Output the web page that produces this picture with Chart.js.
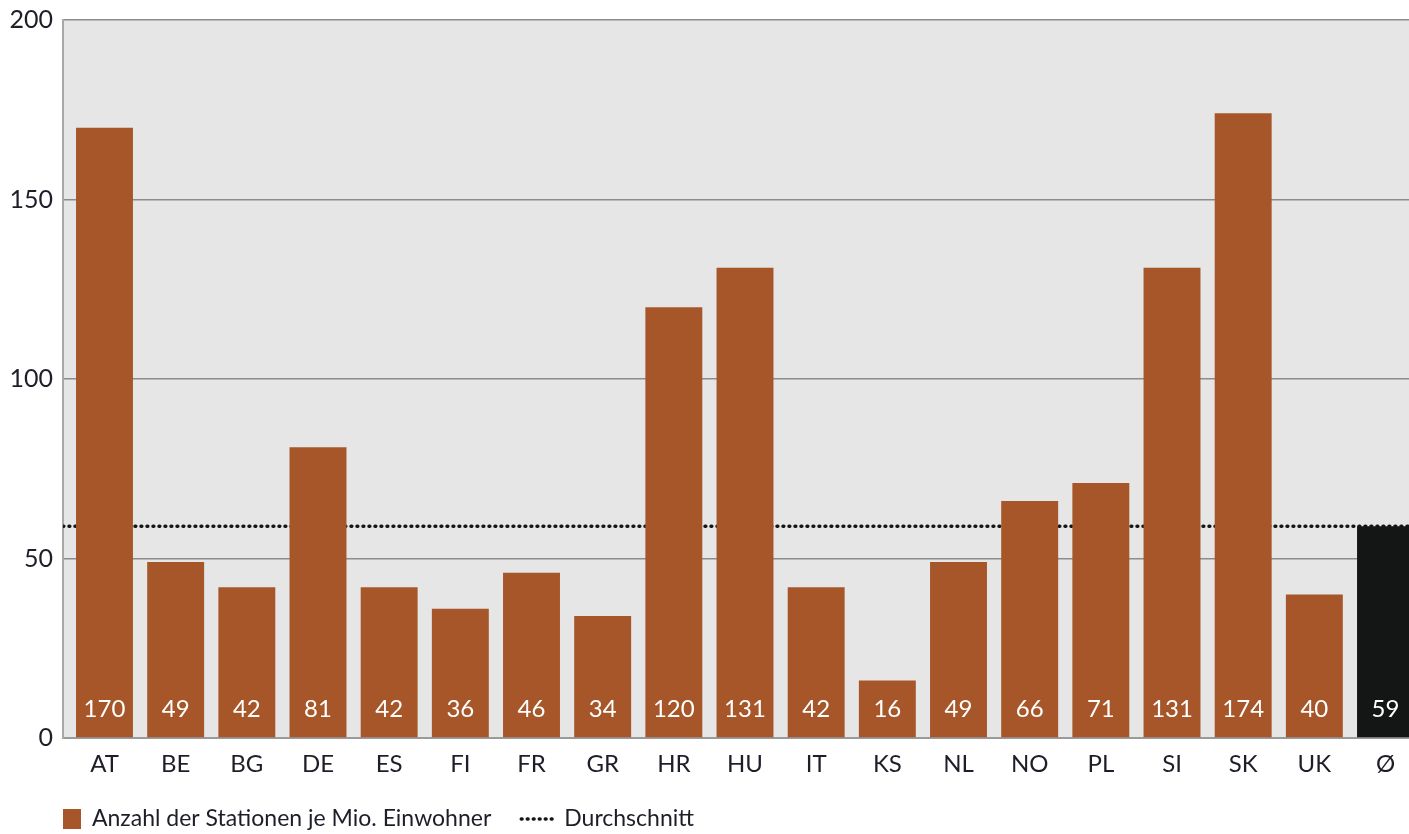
<!DOCTYPE html>
<html>
<head>
<meta charset="utf-8">
<script src="https://cdn.jsdelivr.net/npm/chart.js@4/dist/chart.umd.min.js"></script>
<style>
  html, body { margin: 0; padding: 0; background: #ffffff; overflow: hidden; }
  #wrap { width: 1409px; height: 834px; position: relative; }
</style>
</head>
<body>
<div id="wrap"><canvas id="c"></canvas></div>
<script>
// ---- data ----
const categories = ['AT','BE','BG','DE','ES','FI','FR','GR','HR','HU','IT','KS','NL','NO','PL','SI','SK','UK','Ø'];
const stationValues = [170,49,42,81,42,36,46,34,120,131,42,16,49,66,71,131,174,40,59];
const averageValue = 59;
const yTickValues = [0, 50, 100, 150, 200];
const seriesNames = ['Anzahl der Stationen je Mio. Einwohner', 'Durchschnitt'];

// ---- style ----
const FONT = "Lato, 'Open Sans', sans-serif";
const BROWN = '#a65628';
const BLACK = '#141616';
const TEXT = '#1e1e28';
const X_MIN = -0.583, X_MAX = 18.33;
const DOT_DASH = [0.8, 5.2];

const barColors = categories.map(c => c === 'Ø' ? BLACK : BROWN);

const plotBg = {
  id: 'plotBg',
  beforeDraw(chart) {
    const {ctx, chartArea: a} = chart;
    ctx.save();
    ctx.fillStyle = '#e6e6e6';
    ctx.fillRect(a.left, a.top, a.right - a.left, a.bottom - a.top);
    ctx.restore();
  }
};

const valueLabels = {
  id: 'valueLabels',
  afterDatasetsDraw(chart) {
    const {ctx} = chart;
    const meta = chart.getDatasetMeta(0);
    const y0 = chart.scales.y.getPixelForValue(0);
    ctx.save();
    ctx.font = '24px ' + FONT;
    ctx.fillStyle = '#ffffff';
    ctx.textAlign = 'center';
    ctx.textBaseline = 'middle';
    meta.data.forEach((el, i) => {
      ctx.fillText(String(stationValues[i]), el.x, y0 - 29);
    });
    ctx.restore();
  }
};

const customLegend = {
  id: 'customLegend',
  afterDraw(chart) {
    const {ctx, chartArea: a} = chart;
    const cy = chart.height - 15;
    ctx.save();
    ctx.font = '23px ' + FONT;
    ctx.textBaseline = 'middle';
    ctx.textAlign = 'left';
    let x = a.left;
    // bar item
    ctx.fillStyle = BROWN;
    ctx.fillRect(x, cy - 10, 18, 20);
    x += 29;
    ctx.fillStyle = TEXT;
    ctx.fillText(seriesNames[0], x, cy);
    x += ctx.measureText(seriesNames[0]).width + 29;
    // line item
    ctx.strokeStyle = BLACK;
    ctx.lineWidth = 3.5;
    ctx.lineCap = 'round';
    ctx.setLineDash(DOT_DASH);
    ctx.beginPath();
    ctx.moveTo(x + 1, cy);
    ctx.lineTo(x + 34, cy);
    ctx.stroke();
    ctx.setLineDash([]);
    x += 44;
    ctx.fillStyle = TEXT;
    ctx.fillText(seriesNames[1], x, cy);
    ctx.restore();
  }
};

new Chart(document.getElementById('c'), {
  type: 'bar',
  data: {
    datasets: [
      {
        type: 'bar',
        label: seriesNames[0],
        data: stationValues.map((v, i) => ({x: i, y: v})),
        backgroundColor: barColors,
        borderWidth: 0,
        categoryPercentage: 1,
        barPercentage: 0.8,
        order: 1
      },
      {
        type: 'line',
        label: seriesNames[1],
        data: [{x: X_MIN, y: averageValue}, {x: X_MAX, y: averageValue}],
        borderColor: BLACK,
        borderWidth: 3.5,
        borderDash: DOT_DASH,
        borderCapStyle: 'round',
        pointRadius: 0,
        fill: false,
        order: 2
      }
    ]
  },
  options: {
    responsive: true,
    maintainAspectRatio: false,
    animation: false,
    layout: { padding: { top: 20, right: 0, bottom: 44, left: 0 } },
    plugins: {
      legend: { display: false },
      tooltip: { enabled: false }
    },
    scales: {
      x: {
        type: 'linear',
        offset: false,
        min: X_MIN,
        max: X_MAX,
        afterBuildTicks(scale) { scale.ticks = categories.map((_, i) => ({value: i})); },
        afterFit(scale) { scale.height = 52; scale.paddingLeft = 0; scale.paddingRight = 0; },
        grid: { display: false, drawTicks: false, offset: false },
        border: { display: true, color: '#9a9a9a', width: 2 },
        ticks: {
          autoSkip: false,
          maxRotation: 0,
          padding: 12,
          color: TEXT,
          font: { family: FONT, size: 24 },
          callback: (v) => categories[v]
        }
      },
      y: {
        min: 0,
        max: 200,
        afterBuildTicks(scale) { scale.ticks = yTickValues.map(v => ({value: v})); },
        afterFit(scale) { scale.width = 63; scale.paddingTop = 0; scale.paddingBottom = 0; },
        grid: { color: '#8c8c8c', lineWidth: 1.5, drawTicks: false },
        border: { display: true, color: '#a8a8a8', width: 2 },
        ticks: {
          padding: 10,
          color: TEXT,
          font: { family: FONT, size: 25 }
        }
      }
    }
  },
  plugins: [plotBg, valueLabels, customLegend]
});
</script>
</body>
</html>
